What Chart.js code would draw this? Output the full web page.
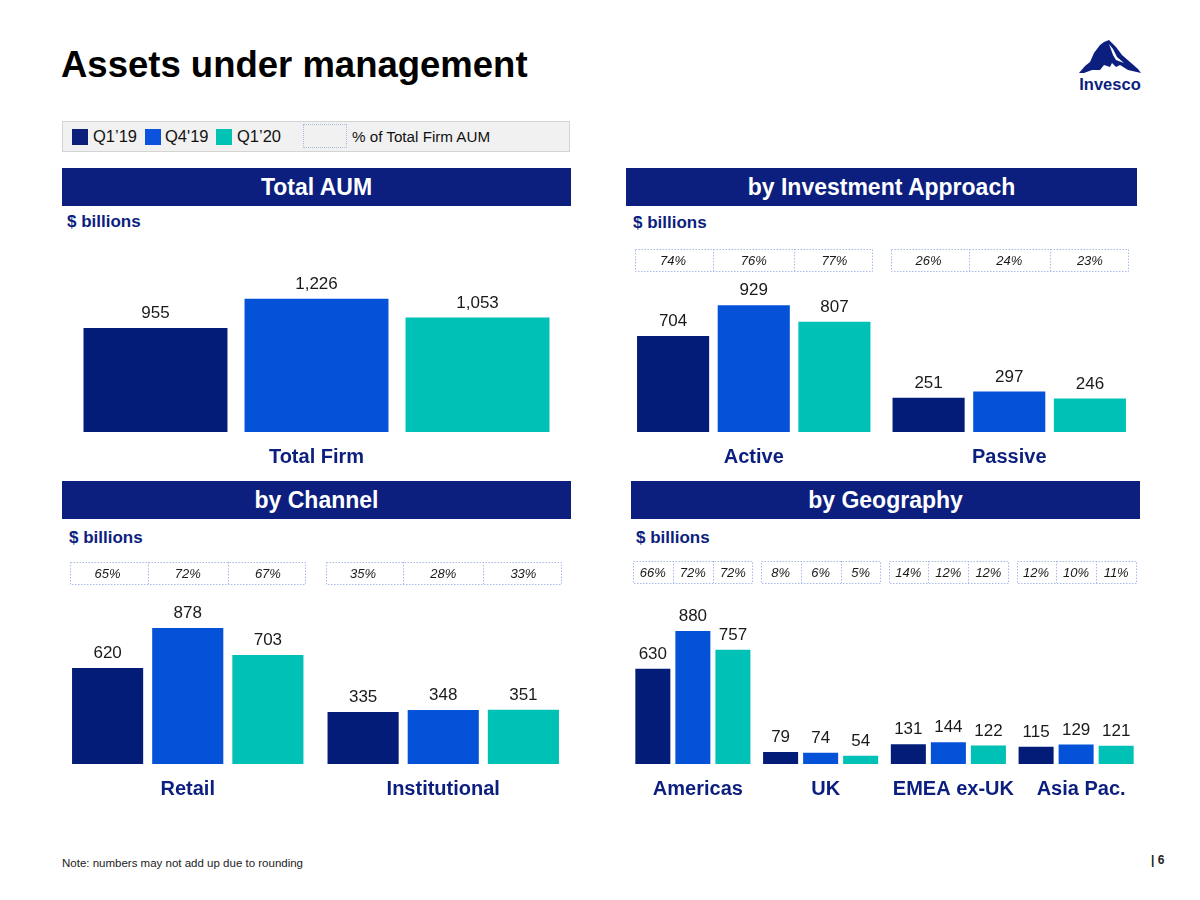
<!DOCTYPE html>
<html>
<head>
<meta charset="utf-8">
<script src="https://cdn.jsdelivr.net/npm/chart.js@4.4.0/dist/chart.umd.min.js"></script>
<style>
  body { margin: 0; background: #fff; font-family: "Liberation Sans", Arial, sans-serif; }
  #page { position: relative; width: 1200px; height: 900px; overflow: hidden; }
  .abs { position: absolute; }
  .title { left: 61px; top: 44px; font-size: 36.5px; font-weight: bold; color: #000; }
  .legend { left: 62px; top: 121px; width: 506px; height: 29px; background: #f1f1f1; border: 1px solid #d3d3d3; }
  .legend .sw { position: absolute; top: 7px; width: 16px; height: 16px; }
  .legend .lt { position: absolute; top: 5px; font-size: 16.5px; color: #111; }
  .legend .dot { position: absolute; left: 240px; top: 2px; width: 42px; height: 22px; border: 1px dotted #a9bbe8; }
  .hdr { height: 38px; background: #0c1f7f; color: #fff; font-weight: bold; font-size: 23px; text-align: center; line-height: 38px; }
  .unit { font-size: 17px; font-weight: bold; color: #0c1f7f; }
  .note { left: 62px; top: 857px; font-size: 11.5px; color: #222; }
  .pg { left: 1151px; top: 853px; font-size: 12px; font-weight: bold; color: #222; }
  canvas { position: absolute; }
</style>
</head>
<body>
<div id="page">
  <div class="abs title">Assets under management</div>

  <svg class="abs" style="left:1076px;top:36px" width="70" height="60" viewBox="0 0 70 60">
    <path d="M3 37 L9 30 L14 26 L18 17 L24 9 L28 6 L33 4 L36 7 L40 11 L46 19 L54 26 L62 33 L65 37 L52 34 L44 29 L40 31 L36 27 L34 31 L28 29 L24 34 L16 34 L8 37 Z" fill="#0c1f7f"/>
    <path d="M33 8 L37 13 L41 21 L48 27 L40 24 L37 19 Z" fill="#fff"/>
    <text x="34" y="54" text-anchor="middle" font-family="Liberation Sans, Arial, sans-serif" font-weight="bold" font-size="16.5" fill="#0c1f7f">Invesco</text>
  </svg>

  <div class="abs legend">
    <div class="sw" style="left:9px;background:#0c1f7a"></div><div class="lt" style="left:30px">Q1’19</div>
    <div class="sw" style="left:82px;background:#0b52dc"></div><div class="lt" style="left:102px">Q4'19</div>
    <div class="sw" style="left:153px;background:#00c2b5"></div><div class="lt" style="left:174px">Q1’20</div>
    <div class="dot"></div>
    <div class="lt" style="left:289px;top:6px;font-size:15.2px">% of Total Firm AUM</div>
  </div>

  <div class="abs hdr" style="left:62px;top:168px;width:509px">Total AUM</div>
  <div class="abs hdr" style="left:626px;top:168px;width:511px">by Investment Approach</div>
  <div class="abs hdr" style="left:62px;top:481px;width:509px">by Channel</div>
  <div class="abs hdr" style="left:631px;top:481px;width:509px">by Geography</div>

  <div class="abs unit" style="left:67px;top:212px">$ billions</div>
  <div class="abs unit" style="left:633px;top:213px">$ billions</div>
  <div class="abs unit" style="left:69px;top:528px">$ billions</div>
  <div class="abs unit" style="left:636px;top:528px">$ billions</div>

  <canvas id="cTotal" width="509" height="252" style="left:62px;top:230px"></canvas>
  <canvas id="cApproach" width="511" height="252" style="left:626px;top:230px"></canvas>
  <canvas id="cChannel" width="511" height="269" style="left:60px;top:545px"></canvas>
  <canvas id="cGeo" width="511" height="269" style="left:629px;top:545px"></canvas>

  <div class="abs note">Note: numbers may not add up due to rounding</div>
  <div class="abs pg">| 6</div>
</div>

<script>
const SERIES = ["Q1’19", "Q4'19", "Q1’20"];
const SERIES_COLORS = ["#021c78", "#0452d8", "#00c1b5"];

const totalCats = ["Total Firm"];
const totalQ119 = [955];
const totalQ419 = [1226];
const totalQ120 = [1053];

const approachCats = ["Active", "Passive"];
const approachQ119 = [704, 251];
const approachQ419 = [929, 297];
const approachQ120 = [807, 246];
const approachPct = [[74, 76, 77], [26, 24, 23]];

const channelCats = ["Retail", "Institutional"];
const channelQ119 = [620, 335];
const channelQ419 = [878, 348];
const channelQ120 = [703, 351];
const channelPct = [[65, 72, 67], [35, 28, 33]];

const geoCats = ["Americas", "UK", "EMEA ex-UK", "Asia Pac."];
const geoQ119 = [630, 79, 131, 115];
const geoQ419 = [880, 74, 144, 129];
const geoQ120 = [757, 54, 122, 121];
const geoPct = [[66, 72, 72], [8, 6, 5], [14, 12, 12], [12, 10, 11]];

const FONT = "'Liberation Sans', Arial, sans-serif";

//========================================================================
const barValueLabels = {
  id: "barValueLabels",
  afterDatasetsDraw: chart => {
    const ctx = chart.ctx;
    ctx.save();
    ctx.font = "17px " + FONT;
    ctx.fillStyle = "#1a1a1a";
    ctx.textAlign = "center";
    ctx.textBaseline = "bottom";
    chart.data.datasets.forEach((ds, di) => {
      chart.getDatasetMeta(di).data.forEach((bar, i) => {
        ctx.fillText(ds.data[i].toLocaleString("en-US"), bar.x, bar.y - 6);
      });
    });
    ctx.restore();
  }
};

//========================================================================
const pctBoxes = {
  id: "pctBoxes",
  afterDatasetsDraw: (chart, args, opts) => {
    if (!opts.values) {
      return;
    }
    const ctx = chart.ctx;
    const metas = chart.data.datasets.map((d, di) => chart.getDatasetMeta(di));
    ctx.save();
    opts.values.forEach((row, i) => {
      const bars = metas.map(m => m.data[i]);
      const first = bars[0], last = bars[bars.length - 1];
      const left = first.x - first.width / 2 - 2;
      const right = last.x + last.width / 2 + 2;
      const top = opts.top, h = opts.height;

      ctx.strokeStyle = "#a9bbe8";
      ctx.lineWidth = 1;
      ctx.setLineDash([1.5, 1.5]);
      ctx.strokeRect(Math.round(left) + 0.5, top + 0.5, Math.round(right - left), h);
      for (let k = 0; k < bars.length - 1; k++) {
        const xd = Math.round((bars[k].x + bars[k + 1].x) / 2) + 0.5;
        ctx.beginPath();
        ctx.moveTo(xd, top);
        ctx.lineTo(xd, top + h);
        ctx.stroke();
      }
      ctx.setLineDash([]);

      ctx.font = "italic 13px " + FONT;
      ctx.fillStyle = "#1a1a1a";
      ctx.textAlign = "center";
      ctx.textBaseline = "middle";
      row.forEach((v, k) => {
        ctx.fillText(v + "%", bars[k].x, top + h / 2 + 1);
      });
    });
    ctx.restore();
  }
};

//========================================================================
const makeChart = (id, cats, q119, q419, q120, cfg) => {
  const values = [q119, q419, q120];
  return new Chart(document.getElementById(id), {
    type: "bar",
    data: {
      labels: cats,
      datasets: SERIES.map((s, i) => ({
        label: s,
        data: values[i],
        backgroundColor: SERIES_COLORS[i],
        borderWidth: 0,
        categoryPercentage: cfg.catPct,
        barPercentage: cfg.barPct
      }))
    },
    options: {
      responsive: false,
      animation: false,
      devicePixelRatio: 1,
      layout: { padding: 0 },
      plugins: {
        legend: { display: false },
        tooltip: { enabled: false },
        pctBoxes: { values: cfg.pct, top: cfg.pctTop, height: 22 }
      },
      scales: {
        x: {
          grid: { display: false, drawTicks: false },
          border: { display: false },
          ticks: {
            padding: 13,
            labelOffset: cfg.labelOffset || 0,
            color: "#0c1f7f",
            font: { family: FONT, size: 20, weight: "bold" }
          }
        },
        y: {
          display: false,
          min: 0,
          max: cfg.max
        }
      }
    },
    plugins: [barValueLabels, pctBoxes]
  });
};

makeChart("cTotal", totalCats, totalQ119, totalQ419, totalQ120,
          { catPct: 0.949, barPct: 0.894, max: 1857 });
makeChart("cApproach", approachCats, approachQ119, approachQ419, approachQ120,
          { catPct: 0.947, barPct: 0.894, max: 1480, pct: approachPct, pctTop: 19 });
makeChart("cChannel", channelCats, channelQ119, channelQ419, channelQ120,
          { catPct: 0.941, barPct: 0.8875, max: 1414, pct: channelPct, pctTop: 17 });
makeChart("cGeo", geoCats, geoQ119, geoQ419, geoQ120,
          { catPct: 0.94, barPct: 0.875, max: 1450, pct: geoPct, pctTop: 16, labelOffset: 5 });
</script>
</body>
</html>
